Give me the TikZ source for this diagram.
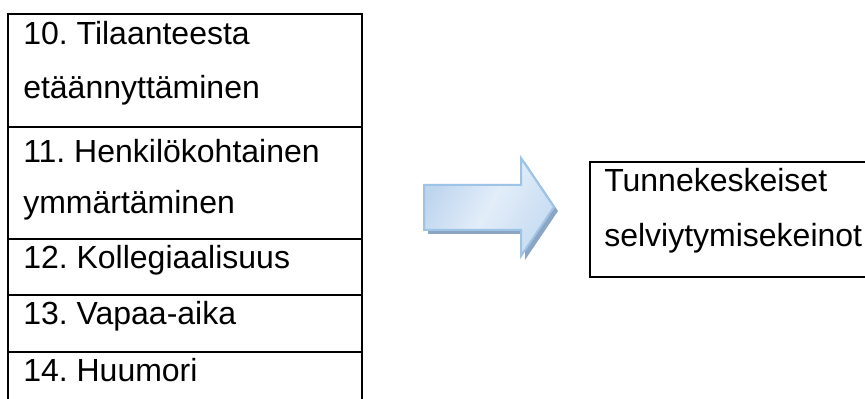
\documentclass[tikz,border=0pt]{standalone}
\usepackage{fontspec}
\setmainfont{Liberation Sans}
\frenchspacing
\begin{document}
\begin{tikzpicture}[x=0.75pt,y=-0.75pt,
  rule/.style={line width=1.5pt,black},
  lbl/.style={anchor=base west,inner sep=0pt,font=\fontsize{24}{28}\selectfont}]
\useasboundingbox (0,0) rectangle (865,399);
% left table
\draw[rule] (7.5,401) -- (7.5,14) -- (362,14) -- (362,401);
\draw[rule] (7.5,127) -- (362,127);
\draw[rule] (7.5,239) -- (362,239);
\draw[rule] (7.5,295) -- (362,295);
\draw[rule] (7.5,352) -- (362,352);
\node[lbl] (r10a) at (23,45) {10. Tilaanteesta};
\node[lbl] (r10b) at (23,99) {etäännyttäminen};
\node[lbl] (r11a) at (23,163) {11. Henkilökohtainen};
\node[lbl] (r11b) at (23,214) {ymmärtäminen};
\node[lbl] (r12) at (23,269) {12. Kollegiaalisuus};
\node[lbl] (r13) at (23,325) {13. Vapaa-aika};
\node[lbl] (r14) at (23,382) {14. Huumori};
% arrow
\fill[color={rgb,255:red,140;green,165;blue,195}] (428,189) -- (525,189) -- (525,162) -- (558,211) -- (525,260) -- (525,234) -- (428,234) -- cycle;
\shade[left color={rgb,255:red,190;green,213;blue,238},right color={rgb,255:red,200;green,220;blue,242},middle color={rgb,255:red,226;green,237;blue,249},shading angle=60,
  draw={rgb,255:red,157;green,195;blue,230},line width=1.5pt]
  (424,185) -- (521,185) -- (521,158) -- (554,207) -- (521,256) -- (521,230) -- (424,230) -- cycle;
% right box
\draw[rule] (870,162) -- (590,162) -- (590,277) -- (870,277);
\node[lbl] (t1) at (604,192) {Tunnekeskeiset};
\node[lbl] (t2) at (604,247) {selviytymisekeinot};
\end{tikzpicture}
\end{document}
